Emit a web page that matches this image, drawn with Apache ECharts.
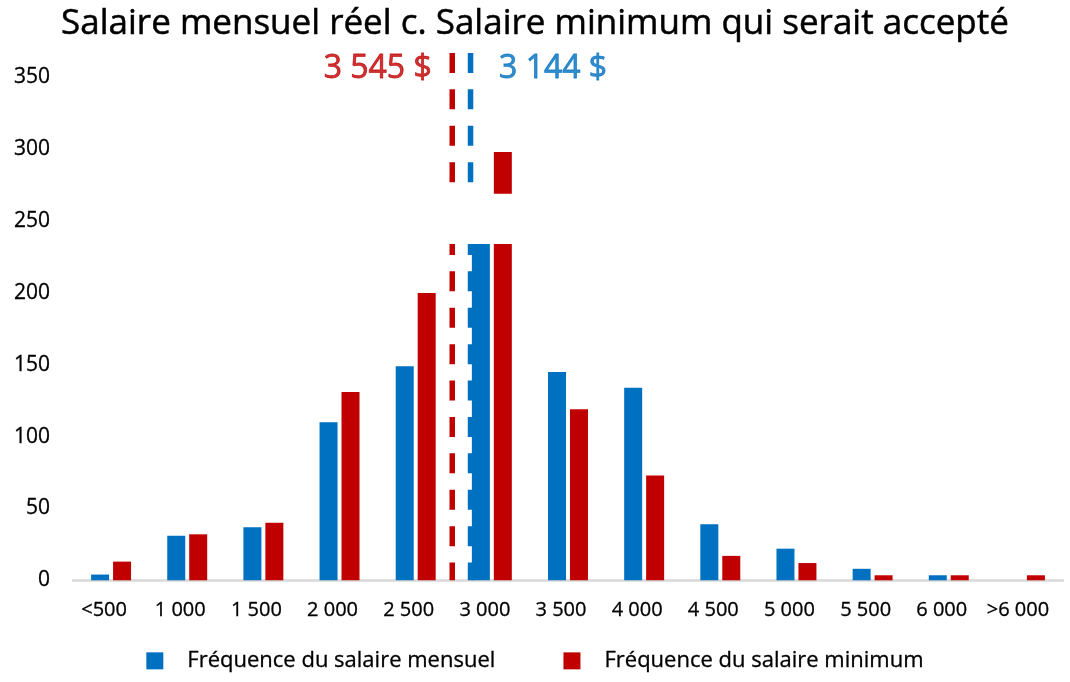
<!DOCTYPE html>
<html>
<head>
<meta charset="utf-8">
<script src="https://cdn.jsdelivr.net/npm/echarts@6/dist/echarts.min.js"></script>
<style>
  html, body { margin: 0; background: #fff; }
  #chart { width: 1070px; height: 682px; }
</style>
</head>
<body>
<div id="chart"></div>
<script>
// tranches de salaire
const categories = ['<500', '1 000', '1 500', '2 000', '2 500', '3 000', '3 500', '4 000', '4 500', '5 000', '5 500', '6 000', '>6 000'];
// fréquences
const monthly = [4, 31, 37, 110, 149, 250, 145, 134, 39, 22, 8, 3.5, 0];
const minimum = [13, 32, 40, 131, 200, 298, 119, 73, 17, 12, 3.5, 3.5, 3.5];
const seriesNames = ['Fréquence du salaire mensuel', 'Fréquence du salaire minimum'];
const yTicks = [0, 350, 50]; // min, max label, interval

// lignes de moyenne (position en index de catégorie)
const meanLabels = ['3 545 $', '3 144 $'];
const meanPos = [4.48, 4.72];
const meanTop = 367;
const meanLabelY = 356;

// coupure d'axe au-dessus de la barre 3 000
const breakRange = [234, 269];
const breakSpan = [4.3, 5.4];

const BLUE = '#0070C0';
const RED = '#C00000';
const FONT = '"Open Sans", sans-serif';

const chart = echarts.init(document.getElementById('chart'));

const option = {
  animation: false,
  title: {
    text: 'Salaire mensuel réel c. Salaire minimum qui serait accepté',
    left: 'center',
    top: 2,
    textStyle: { fontFamily: FONT, fontSize: 35, fontWeight: 'normal', color: '#000', textBorderColor: '#000', textBorderWidth: 0.5 }
  },
  legend: {
    data: seriesNames,
    bottom: 5,
    left: 'center',
    icon: 'rect',
    itemWidth: 17,
    itemHeight: 17,
    itemGap: 68,
    textStyle: { fontFamily: FONT, fontSize: 22, color: '#000', padding: [0, 0, 0, 19], textBorderColor: '#000', textBorderWidth: 0.3 }
  },
  grid: { left: 73, right: 7, top: 51.5, bottom: 101.7 },
  xAxis: [
    {
      type: 'category',
      data: categories,
      axisTick: { show: false },
      axisLine: { lineStyle: { color: '#d9d9d9', width: 2.5 } },
      axisLabel: { fontFamily: FONT, fontSize: 20, color: '#000', margin: 20, interval: 0, padding: [0, 14, 0, 0], textBorderColor: '#000', textBorderWidth: 0.3 }
    },
    { type: 'value', min: -0.5, max: 12.5, show: false }
  ],
  yAxis: {
    type: 'value',
    min: yTicks[0],
    max: meanTop + 1,
    interval: yTicks[2],
    splitLine: { show: false },
    axisLine: { show: false },
    axisTick: { show: false },
    axisLabel: { fontFamily: FONT, fontSize: 21, color: '#000', margin: 23, showMaxLabel: false, textBorderColor: '#000', textBorderWidth: 0.3 }
  },
  series: [
    {
      name: seriesNames[0],
      type: 'bar',
      data: monthly,
      barWidth: 18,
      barGap: '22%',
      itemStyle: { color: BLUE },
      z: 2
    },
    {
      name: seriesNames[1],
      type: 'bar',
      data: minimum,
      barWidth: 18,
      itemStyle: { color: RED },
      z: 2
    },
    {
      type: 'line',
      xAxisIndex: 1,
      data: [[meanPos[0], meanTop], [meanPos[0], 0]],
      symbol: 'none',
      lineStyle: { color: RED, width: 5.5, type: [20, 16.4] },
      z: 3
    },
    {
      type: 'line',
      xAxisIndex: 1,
      data: [[meanPos[1], meanTop], [meanPos[1], 0]],
      symbol: 'none',
      lineStyle: { color: BLUE, width: 5.5, type: [20, 16.4] },
      z: 3
    },
    {
      type: 'custom',
      xAxisIndex: 1,
      data: [[breakSpan[0], breakSpan[1], breakRange[0], breakRange[1]]],
      encode: { x: [0, 1], y: [2, 3] },
      renderItem: function (params, api) {
        const p0 = api.coord([api.value(0), api.value(3)]);
        const p1 = api.coord([api.value(1), api.value(2)]);
        return {
          type: 'rect',
          shape: { x: p0[0], y: p0[1], width: p1[0] - p0[0], height: p1[1] - p0[1] },
          style: { fill: '#fff' }
        };
      },
      silent: true,
      z: 10
    },
    {
      type: 'scatter',
      xAxisIndex: 1,
      symbolSize: 1,
      itemStyle: { color: 'rgba(0,0,0,0)' },
      data: [
        {
          value: [meanPos[0], meanLabelY],
          label: { show: true, position: 'left', distance: 20, formatter: meanLabels[0], color: RED, fontSize: 32, fontFamily: FONT, textBorderColor: RED, textBorderWidth: 0.8 }
        },
        {
          value: [meanPos[1], meanLabelY],
          label: { show: true, position: 'right', distance: 28, formatter: meanLabels[1], color: BLUE, fontSize: 32, fontFamily: FONT, textBorderColor: BLUE, textBorderWidth: 0.8 }
        }
      ],
      silent: true,
      z: 11
    }
  ]
};

chart.setOption(option);
</script>
</body>
</html>
